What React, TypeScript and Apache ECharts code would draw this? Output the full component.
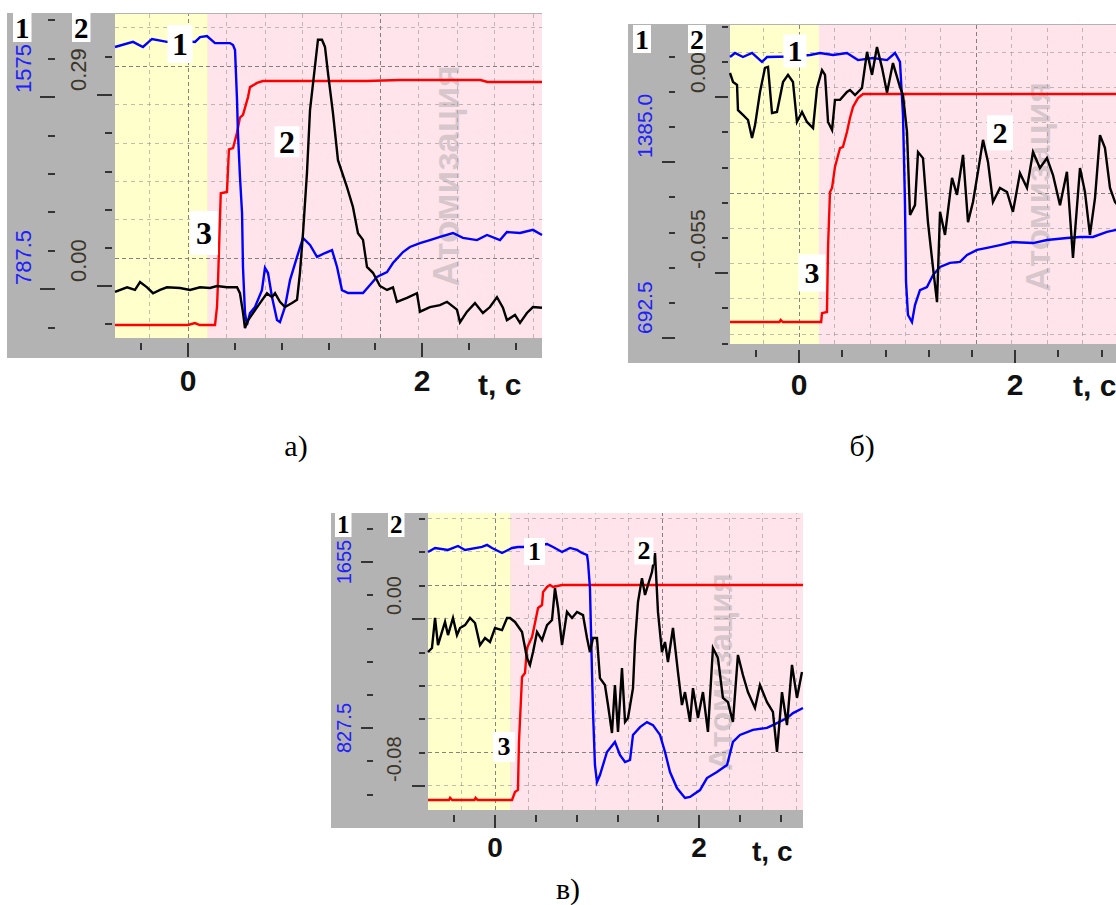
import React, { useEffect, useRef } from "react";
import * as echarts from "echarts";

const SANS = '"Liberation Sans", Arial, Helvetica, sans-serif';
const SERIF = '"Liberation Serif", "Times New Roman", Times, serif';

// ---------- shared time axis (seconds) ----------
const timeMinorTicks = [-0.4, 0.4, 0.8, 1.2, 1.6, 2.4, 2.8];
const timeMajorTicks = [0, 2];
const timeGridLight = [-0.328, 0.328, 0.656, 0.984, 1.312, 1.968, 2.296, 2.624, 2.952];
const timeGridDark = [0, 1.64];

// ---------- panel а ----------
const aBlue = [
  [-0.624, 1780], [-0.47, 1801], [-0.385, 1780], [-0.308, 1813], [-0.18, 1801], [-0.05, 1805], [0.06, 1801],
  [0.103, 1821], [0.162, 1825], [0.231, 1796], [0.359, 1796], [0.385, 1788], [0.402, 1768], [0.419, 1563],
  [0.427, 1427], [0.444, 1250], [0.462, 1099], [0.47, 878], [0.487, 690], [0.504, 640], [0.53, 689],
  [0.573, 714], [0.632, 783], [0.658, 874], [0.684, 853], [0.718, 755], [0.761, 660], [0.786, 652],
  [0.829, 714], [0.872, 824], [0.932, 919], [0.983, 997], [1.043, 968], [1.103, 919], [1.171, 935],
  [1.231, 947], [1.274, 878], [1.316, 783], [1.368, 771], [1.496, 771], [1.556, 804], [1.615, 837],
  [1.701, 857], [1.752, 894], [1.838, 939], [1.897, 960], [1.983, 976], [2.068, 988], [2.154, 1001],
  [2.265, 1017], [2.35, 997], [2.47, 988], [2.556, 1009], [2.667, 988], [2.726, 1021], [2.838, 1017],
  [2.949, 1030], [3.026, 1009],
];
const aBlack = [
  [-0.624, -0.009], [-0.521, -0.002], [-0.453, -0.006], [-0.41, 0.006], [-0.35, -0.002], [-0.299, -0.011],
  [-0.239, -0.006], [-0.18, -0.002], [-0.068, -0.003], [0.017, -0.006], [0.103, -0.002], [0.188, -0.003],
  [0.248, 0], [0.333, -0.002], [0.419, -0.002], [0.444, -0.011], [0.47, -0.04], [0.487, -0.064],
  [0.513, -0.052], [0.556, -0.041], [0.615, -0.026], [0.675, -0.011], [0.718, -0.017], [0.744, -0.011],
  [0.786, -0.024], [0.829, -0.032], [0.889, -0.026], [0.932, -0.021], [0.957, 0.02], [0.983, 0.08],
  [1.017, 0.172], [1.043, 0.267], [1.085, 0.333], [1.111, 0.374], [1.145, 0.374], [1.171, 0.363],
  [1.197, 0.323], [1.239, 0.263], [1.282, 0.191], [1.359, 0.15], [1.41, 0.12], [1.453, 0.08],
  [1.496, 0.07], [1.53, 0.029], [1.581, 0.02], [1.641, 0], [1.701, -0.006], [1.752, -0.002],
  [1.786, -0.024], [1.872, -0.018], [1.957, -0.011], [1.983, -0.039], [2.068, -0.032], [2.154, -0.029],
  [2.214, -0.024], [2.299, -0.036], [2.325, -0.055], [2.385, -0.039], [2.453, -0.026], [2.521, -0.041],
  [2.581, -0.032], [2.641, -0.017], [2.692, -0.033], [2.726, -0.052], [2.795, -0.044], [2.838, -0.056],
  [2.897, -0.041], [2.949, -0.032], [3.026, -0.033],
];
const aRed = [
  [-0.624, 0], [0.0, 0], [0.06, 0.008], [0.1, 0], [0.231, 0], [0.248, 0.074], [0.256, 0.17], [0.28, 0.54],
  [0.333, 0.545], [0.35, 0.72], [0.385, 0.725], [0.42, 0.79], [0.444, 0.85], [0.47, 0.861], [0.513, 0.934],
  [0.53, 0.975], [0.59, 0.992], [0.64, 1.0], [1.53, 1.0], [1.81, 1.004], [2.5, 1.004], [2.56, 0.996],
  [3.026, 0.996],
];
const aBlueMinorTicks = [630, 945, 1102.5, 1260, 1417.5, 1732.5, 1890];
const aBlueMajorTicks = [787.5, 1575];
const aBlueLabels = ["787.5", "1575"];
const aBlackMinorTicks = [-0.058, 0.058, 0.116, 0.174, 0.232, 0.348];
const aBlackMajorTicks = [0, 0.29];
const aBlackLabels = ["0.00", "0.29"];
const aGridLight = [1, 2, 3, 4, 6];
const aGridDark = [0, 5];
const aCurveLabels = [
  { text: "1", series: "blue", t: -0.068, v: 1792, w: 25, h: 38 },
  { text: "2", series: "black", t: 0.846, v: 0.219, w: 25, h: 31 },
  { text: "3", series: "red", t: 0.137, v: 0.377, w: 28, h: 44 },
];

// ---------- panel б ----------
const bBlue = [
  [-0.639, 1798], [-0.593, 1814], [-0.519, 1798], [-0.435, 1814], [-0.343, 1779], [-0.296, 1798],
  [-0.08, 1800], [0.102, 1806], [0.194, 1814], [0.315, 1806], [0.444, 1814], [0.546, 1786], [0.685, 1794],
  [0.815, 1786], [0.889, 1814], [0.935, 1779], [0.963, 1570], [0.981, 1228], [0.991, 913], [1.009, 783],
  [1.046, 755], [1.074, 822], [1.12, 881], [1.185, 893], [1.241, 940], [1.306, 972], [1.398, 988],
  [1.491, 992], [1.556, 1019], [1.648, 1039], [1.741, 1047], [1.861, 1058], [1.981, 1070], [2.167, 1066],
  [2.296, 1078], [2.481, 1086], [2.602, 1090], [2.722, 1090], [2.852, 1110], [2.926, 1117], [3.028, 1117],
];
const bBlack = [
  [-0.639, 0.0075], [-0.611, 0.0047], [-0.574, 0.0038], [-0.565, -0.0041], [-0.519, -0.0056],
  [-0.472, -0.0072], [-0.435, -0.0128], [-0.407, -0.0088], [-0.361, 0.0016], [-0.315, 0.0091],
  [-0.287, 0.0094], [-0.25, -0.005], [-0.204, -0.0047], [-0.148, 0.0047], [-0.102, 0.0069],
  [-0.056, 0.0047], [-0.019, -0.0078], [0.028, -0.0047], [0.074, -0.0078], [0.13, -0.0097],
  [0.167, 0.0028], [0.213, 0.0084], [0.241, 0.0069], [0.269, -0.0078], [0.306, -0.0103],
  [0.333, -0.0009], [0.38, -0.0009], [0.444, 0.0016], [0.472, 0.0022], [0.519, 0.0006], [0.583, 0.0028],
  [0.63, 0.0141], [0.676, 0.0069], [0.722, 0.0156], [0.769, 0.0091], [0.815, 0.0013], [0.87, 0.0106],
  [0.935, 0.0031], [0.963, 0.0006], [1.0, -0.0109], [1.028, -0.0369], [1.074, -0.0338], [1.102, -0.0172],
  [1.148, -0.0191], [1.194, -0.0391], [1.241, -0.0534], [1.278, -0.0641], [1.306, -0.0359],
  [1.352, -0.0431], [1.417, -0.0253], [1.463, -0.0306], [1.519, -0.0181], [1.565, -0.0391],
  [1.611, -0.0328], [1.657, -0.0234], [1.704, -0.0134], [1.75, -0.0203], [1.796, -0.0328],
  [1.861, -0.0284], [1.926, -0.0297], [1.981, -0.0359], [2.046, -0.0238], [2.111, -0.0284],
  [2.167, -0.0172], [2.231, -0.0222], [2.296, -0.0191], [2.352, -0.0244], [2.417, -0.0338],
  [2.481, -0.0234], [2.537, -0.0503], [2.602, -0.0222], [2.648, -0.0297], [2.694, -0.0431],
  [2.741, -0.0316], [2.787, -0.0119], [2.833, -0.0159], [2.88, -0.0284], [2.926, -0.0328], [2.98, -0.035],
];
const bRed = [
  [-0.639, 0], [-0.18, 0], [-0.17, 0.009], [-0.15, 0], [0.205, 0], [0.213, 0.039], [0.259, 0.044],
  [0.269, 0.33], [0.287, 0.57], [0.306, 0.588], [0.333, 0.68], [0.38, 0.763], [0.407, 0.768],
  [0.444, 0.833], [0.472, 0.895], [0.5, 0.943], [0.546, 0.982], [0.593, 1], [3.028, 1],
];
const bBlueMinorTicks = [831, 969.5, 1108, 1246.5, 1523.5, 1662, 1800.5];
const bBlueMajorTicks = [692.5, 1385];
const bBlueLabels = ["692.5", "1385.0"];
const bBlackMinorTicks = [-0.077, -0.066, -0.044, -0.033, -0.022, -0.011, 0.011, 0.022];
const bBlackMajorTicks = [-0.055, 0];
const bBlackLabels = ["-0.055", "0.00"];
const bGridLight = [-4, -3, -2, -1, 1, 2, 3, 4];
const bGridDark = [0];
const bCurveLabels = [
  { text: "1", series: "blue", t: -0.037, v: 1822, w: 23, h: 33 },
  { text: "2", series: "black", t: 1.861, v: -0.0112, w: 26, h: 35 },
  { text: "3", series: "red", t: 0.12, v: 0.215, w: 27, h: 37 },
];

// ---------- panel в ----------
const cBlue = [
  [-0.657, 1705], [-0.588, 1725], [-0.461, 1715], [-0.363, 1735], [-0.294, 1715], [-0.127, 1730],
  [-0.078, 1740], [-0.029, 1725], [0.069, 1700], [0.167, 1725], [0.225, 1730], [0.275, 1730], [0.51, 1745],
  [0.569, 1730], [0.657, 1705], [0.735, 1725], [0.804, 1715], [0.853, 1700], [0.902, 1690], [0.912, 1655],
  [0.931, 1525], [0.951, 1107], [0.961, 907], [0.98, 643], [1.0, 558], [1.029, 593], [1.098, 708],
  [1.176, 758], [1.225, 693], [1.275, 658], [1.324, 668], [1.353, 793], [1.422, 832], [1.49, 857],
  [1.549, 842], [1.618, 793], [1.667, 708], [1.716, 608], [1.784, 528], [1.863, 479], [1.912, 484],
  [2.01, 518], [2.078, 578], [2.176, 608], [2.275, 643], [2.333, 758], [2.402, 793], [2.529, 818],
  [2.667, 828], [2.765, 852], [2.863, 877], [2.922, 902], [3.02, 927],
];
const cBlack = [
  [-0.657, -0.0158], [-0.618, -0.0139], [-0.588, 0.0005], [-0.559, -0.0125], [-0.52, -0.0062],
  [-0.49, -0.0014], [-0.461, -0.0077], [-0.412, 0.0005], [-0.373, -0.0077], [-0.343, -0.0043],
  [-0.294, -0.0029], [-0.245, 0.0005], [-0.196, -0.0019], [-0.147, -0.0125], [-0.098, -0.0091],
  [-0.049, -0.011], [0, -0.0043], [0.069, -0.0053], [0.118, 0.0005], [0.147, 0.0005], [0.196, -0.0014],
  [0.265, -0.0062], [0.314, -0.0187], [0.343, -0.022], [0.373, -0.0158], [0.412, -0.0062],
  [0.461, -0.0101], [0.51, -0.0029], [0.559, -0.0005], [0.588, 0.0148], [0.618, 0.0053], [0.657, -0.0125],
  [0.706, 0.0034], [0.755, 0.0005], [0.804, 0.0034], [0.863, 0.0019], [0.902, -0.0091], [0.931, -0.0158],
  [0.961, -0.0091], [1.0, -0.0091], [1.029, -0.0283], [1.078, -0.0316], [1.108, -0.0412], [1.147, -0.0546],
  [1.176, -0.0316], [1.206, -0.0541], [1.245, -0.0235], [1.275, -0.0493], [1.304, -0.0474],
  [1.353, -0.0331], [1.373, -0.011], [1.402, 0.0081], [1.441, 0.0196], [1.471, 0.0115], [1.5, 0.0163],
  [1.539, 0.0225], [1.569, 0.0316], [1.598, 0.0034], [1.637, -0.0158], [1.667, -0.011], [1.696, -0.0206],
  [1.745, -0.0043], [1.794, -0.0254], [1.833, -0.0412], [1.863, -0.035], [1.912, -0.0493],
  [1.941, -0.0331], [1.99, -0.0474], [2.039, -0.035], [2.088, -0.0541], [2.137, -0.0139],
  [2.186, -0.0187], [2.235, -0.0378], [2.284, -0.0398], [2.333, -0.0493], [2.382, -0.0172],
  [2.431, -0.0268], [2.48, -0.035], [2.549, -0.0426], [2.598, -0.0316], [2.667, -0.0398],
  [2.725, -0.0445], [2.765, -0.0637], [2.814, -0.035], [2.863, -0.0508], [2.912, -0.022],
  [2.961, -0.0378], [3.01, -0.0254],
];
const cRed = [
  [-0.657, 0], [-0.45, 0], [-0.44, 0.01], [-0.42, 0], [-0.2, 0], [-0.19, 0.01], [-0.17, 0], [0.167, 0],
  [0.196, 0.037], [0.225, 0.047], [0.235, 0.27], [0.265, 0.572], [0.294, 0.591], [0.314, 0.707],
  [0.363, 0.758], [0.392, 0.823], [0.422, 0.893], [0.461, 0.907], [0.471, 0.967], [0.51, 0.991],
  [0.539, 1.0], [0.569, 0.991], [0.657, 1.0], [3.02, 1.0],
];
const cBlueMinorTicks = [496.5, 662, 993, 1158.5, 1324, 1489.5, 1820.5];
const cBlueMajorTicks = [827.5, 1655];
const cBlueLabels = ["827.5", "1655"];
const cBlackMinorTicks = [-0.064, -0.048, -0.032, -0.016, 0.016, 0.032, 0.048];
const cBlackMajorTicks = [-0.08, 0];
const cBlackLabels = ["-0.08", "0.00"];
const cGridLight = [-1, 1, 2, 3, 4, 6, 7];
const cGridDark = [0, 5];
const cCurveLabels = [
  { text: "1", series: "blue", t: 0.387, v: 1707, w: 21, h: 27 },
  { text: "2", series: "black", t: 1.46, v: 0.0326, w: 19, h: 27 },
  { text: "3", series: "red", t: 0.088, v: 0.247, w: 22, h: 30 },
];

const WATERMARK = "Атомизация";

// ---------- layout / style config ----------
const panels = [
  {
    grid: { left: 115, top: 14, width: 427, height: 324 },
    tMin: -0.624, tMax: 3.026, yellowEnd: 0.17,
    blueRange: [586.5, 1915.4], blackRange: [-0.079, 0.413], redRange: [-0.0533, 1.2746], gridRange: [-2.083, 6.354],
    blueT: { minor: aBlueMinorTicks, major: aBlueMajorTicks, texts: aBlueLabels },
    blackT: { minor: aBlackMinorTicks, major: aBlackMajorTicks, texts: aBlackLabels },
    hLight: aGridLight, hDark: aGridDark,
    blueAx: { offset: 60, margin: 32, align: "left", fontSize: 22, majorLen: 15, minorLen: 7 },
    blackAx: { offset: 3, margin: 34, align: "left", fontSize: 22, majorLen: 15, minorLen: 7 },
    xAx: { offset: 5, margin: 22, fontSize: 30, majorLen: 14, minorLen: 7 },
    blue: aBlue, black: aBlack, red: aRed, labels: aCurveLabels, labelFont: 32,
    frame: [7, 13, 535, 345],
    headers: [{ text: "1", x: 13, y: 13 }, { text: "2", x: 72, y: 13 }], headerFont: 29,
    wm: { x: 446, y: 176, size: 37 },
    tc: { x: 478, y: 384, size: 30 },
    caption: { text: "а)", x: 296, y: 445 },
  },
  {
    grid: { left: 730, top: 25, width: 396, height: 319 },
    tMin: -0.639, tMax: 3.028, yellowEnd: 0.185,
    blueRange: [668.8, 1924.1], blackRange: [-0.0772, 0.0225], redRange: [-0.0965, 1.3026], gridRange: [-4.29, 4.773],
    blueT: { minor: bBlueMinorTicks, major: bBlueMajorTicks, texts: bBlueLabels },
    blackT: { minor: bBlackMinorTicks, major: bBlackMajorTicks, texts: bBlackLabels },
    hLight: bGridLight, hDark: bGridDark,
    blueAx: { offset: 55, margin: 31, align: "left", fontSize: 21, majorLen: 13, minorLen: 6 },
    blackAx: { offset: 2, margin: 31, align: "left", fontSize: 21, majorLen: 13, minorLen: 6 },
    xAx: { offset: 6, margin: 19, fontSize: 30, majorLen: 13, minorLen: 7 },
    blue: bBlue, black: bBlack, red: bRed, labels: bCurveLabels, labelFont: 30,
    frame: [628, 24, 500, 339],
    headers: [{ text: "1", x: 633, y: 25 }, { text: "2", x: 688, y: 25 }], headerFont: 28,
    wm: { x: 1037, y: 187, size: 35 },
    tc: { x: 1073, y: 385, size: 30 },
    caption: { text: "б)", x: 862, y: 445 },
  },
  {
    grid: { left: 428, top: 513, width: 375, height: 297 },
    tMin: -0.657, tMax: 3.02, yellowEnd: 0.155,
    blueRange: [418.7, 1899.3], blackRange: [-0.0915, 0.0508], redRange: [-0.0465, 1.335], gridRange: [-1.737, 7.156],
    blueT: { minor: cBlueMinorTicks, major: cBlueMajorTicks, texts: cBlueLabels },
    blackT: { minor: cBlackMinorTicks, major: cBlackMajorTicks, texts: cBlackLabels },
    hLight: cGridLight, hDark: cGridDark,
    blueAx: { offset: 55, margin: 29, align: "center", fontSize: 20, majorLen: 12, minorLen: 6 },
    blackAx: { offset: 3, margin: 31, align: "left", fontSize: 20, majorLen: 13, minorLen: 6 },
    xAx: { offset: 5, margin: 18, fontSize: 28, majorLen: 13, minorLen: 7 },
    blue: cBlue, black: cBlack, red: cRed, labels: cCurveLabels, labelFont: 26,
    frame: [331, 513, 472, 315],
    headers: [{ text: "1", x: 335, y: 512 }, { text: "2", x: 388, y: 512 }], headerFont: 25,
    wm: { x: 720, y: 672, size: 33 },
    tc: { x: 752, y: 851, size: 28 },
    caption: { text: "в)", x: 568, y: 888 },
  },
];

const COLORS = {
  frame: "#b3b3b3",
  yellow: "#ffffcc",
  pink: "#ffe4ec",
  blue: "#0000ff",
  red: "#ff0000",
  black: "#000000",
  blueText: "#2020ff",
  blackText: "#3a3528",
  tick: "#151515",
  gridLight: "rgba(140,140,140,0.55)",
  gridDark: "rgba(110,110,110,0.85)",
  watermark: "rgba(150,150,150,0.38)",
};

function fmt(major: number[], texts: string[]) {
  return (v: any) => {
    const n = Number(v);
    const i = major.findIndex((m) => Math.abs(m - n) < 1e-9);
    return i >= 0 ? texts[i] : "";
  };
}

function buildOption() {
  const grid: any[] = [];
  const xAxis: any[] = [];
  const yAxis: any[] = [];
  const series: any[] = [];
  const graphic: any[] = [];
  const tickStyle = { color: COLORS.tick, width: 1.6 };

  panels.forEach((p, gi) => {
    grid.push({ ...p.grid, show: false, containLabel: false, outerBoundsMode: "none" });

    const xBase = {
      type: "value", gridIndex: gi, min: p.tMin, max: p.tMax, position: "bottom", offset: p.xAx.offset,
      axisLine: { show: false, onZero: false }, splitLine: { show: false }, splitArea: { show: false },
    };
    const xi = xAxis.length;
    xAxis.push({ ...xBase, axisTick: { show: true, customValues: timeMinorTicks, length: p.xAx.minorLen, lineStyle: tickStyle }, axisLabel: { show: false } });
    xAxis.push({
      ...xBase,
      axisTick: { show: true, customValues: timeMajorTicks, length: p.xAx.majorLen, lineStyle: tickStyle },
      axisLabel: {
        show: true, customValues: timeMajorTicks, formatter: (v: any) => String(Number(v)), margin: p.xAx.margin,
        fontSize: p.xAx.fontSize, fontWeight: "bold", color: "#111", fontFamily: SANS,
      },
    });

    const yPair = (range: number[], t: any, ax: any, color: string) => {
      const base = {
        type: "value", gridIndex: gi, min: range[0], max: range[1], position: "left", offset: ax.offset,
        axisLine: { show: false, onZero: false }, splitLine: { show: false }, splitArea: { show: false },
      };
      yAxis.push({ ...base, axisTick: { show: true, customValues: t.minor, length: ax.minorLen, lineStyle: tickStyle }, axisLabel: { show: false } });
      yAxis.push({
        ...base,
        axisTick: { show: true, customValues: t.major, length: ax.majorLen, lineStyle: tickStyle },
        axisLabel: {
          show: true, customValues: t.major, formatter: fmt(t.major, t.texts), rotate: 90,
          align: ax.align, verticalAlign: "middle", margin: ax.margin, color, fontSize: ax.fontSize,
          fontFamily: SANS, padding: ax.align === "left" ? [0, 0, 0, 4] : 0,
        },
      });
      return yAxis.length - 1;
    };
    const yBlue = yPair(p.blueRange, p.blueT, p.blueAx, COLORS.blueText);
    const yBlack = yPair(p.blackRange, p.blackT, p.blackAx, COLORS.blackText);
    const hidden = (range: number[]) => {
      yAxis.push({
        type: "value", gridIndex: gi, min: range[0], max: range[1], position: "left", show: false,
        axisLine: { show: false, onZero: false }, splitLine: { show: false },
      });
      return yAxis.length - 1;
    };
    const yRed = hidden(p.redRange);
    const yGrid = hidden(p.gridRange);

    const light = { color: COLORS.gridLight, type: [4, 4], width: 1 };
    const dark = { color: COLORS.gridDark, type: [4, 3], width: 1 };
    const vLight = timeGridLight.filter((v) => v > p.tMin && v < p.tMax);

    // background zones + grid lines
    series.push({
      type: "line", xAxisIndex: xi, yAxisIndex: yGrid, data: [[p.tMin, 0]], symbol: "none", silent: true,
      lineStyle: { opacity: 0 }, z: 0,
      markArea: {
        silent: true, z: 0,
        data: [
          [{ xAxis: p.tMin, itemStyle: { color: COLORS.yellow } }, { xAxis: p.yellowEnd }],
          [{ xAxis: p.yellowEnd, itemStyle: { color: COLORS.pink } }, { xAxis: p.tMax }],
        ],
      },
      markLine: {
        silent: true, z: 1, symbol: ["none", "none"], label: { show: false },
        data: [
          ...vLight.map((v) => ({ xAxis: v, lineStyle: light })),
          ...timeGridDark.map((v) => ({ xAxis: v, lineStyle: dark })),
          ...p.hLight.map((v) => ({ yAxis: v, lineStyle: light })),
          ...p.hDark.map((v) => ({ yAxis: v, lineStyle: dark })),
        ],
      },
    });

    const mk = (name: string) => ({
      silent: true, z: 6,
      data: p.labels.filter((l) => l.series === name).map((l) => ({
        coord: [l.t, l.v], symbol: "rect", symbolSize: [l.w, l.h], itemStyle: { color: "#ffffff" },
        label: {
          show: true, position: "inside", formatter: l.text, color: "#000", fontFamily: SERIF,
          fontWeight: "bold", fontSize: p.labelFont,
        },
      })),
    });
    const lineSeries = (data: number[][], yi: number, color: string, z: number, name: string) => ({
      type: "line", xAxisIndex: xi, yAxisIndex: yi, data, symbol: "none", showSymbol: false, silent: true,
      lineStyle: { color, width: 2.4, join: "miter" }, z, clip: true, markPoint: mk(name),
    });
    series.push(lineSeries(p.red, yRed, COLORS.red, 3, "red"));
    series.push(lineSeries(p.blue, yBlue, COLORS.blue, 4, "blue"));
    series.push(lineSeries(p.black, yBlack, COLORS.black, 5, "black"));

    const [fx, fy, fw, fh] = p.frame;
    graphic.push({ type: "rect", z: -1, silent: true, shape: { x: fx, y: fy, width: fw, height: fh }, style: { fill: COLORS.frame } });
    graphic.push({
      type: "text", z: 2, silent: true, x: p.wm.x, y: p.wm.y, rotation: Math.PI / 2,
      style: { text: WATERMARK, fill: COLORS.watermark, font: `bold ${p.wm.size}px ${SANS}`, align: "center", verticalAlign: "middle" },
    });
    p.headers.forEach((h) => {
      graphic.push({
        type: "text", z: 10, silent: true, x: h.x, y: h.y,
        style: {
          text: h.text, fill: "#000", font: `bold ${p.headerFont}px ${SERIF}`, align: "left", verticalAlign: "top",
          backgroundColor: "#ffffff", padding: [0, 2, 0, 2],
        },
      });
    });
    graphic.push({
      type: "text", z: 10, silent: true, x: p.tc.x, y: p.tc.y,
      style: { text: "t, c", fill: "#111", font: `bold ${p.tc.size}px ${SANS}`, align: "left", verticalAlign: "middle" },
    });
    graphic.push({
      type: "text", z: 10, silent: true, x: p.caption.x, y: p.caption.y,
      style: { text: p.caption.text, fill: "#000", font: `30px ${SERIF}`, align: "center", verticalAlign: "middle" },
    });
  });

  return { animation: false, backgroundColor: "#ffffff", grid, xAxis, yAxis, series, graphic };
}

export default function App() {
  const ref = useRef<HTMLDivElement>(null);
  useEffect(() => {
    if (!ref.current) return;
    const chart = echarts.init(ref.current, null, { renderer: "svg" });
    chart.setOption(buildOption() as any);
    return () => chart.dispose();
  }, []);
  return (
    <div
      ref={ref}
      style={{ position: "fixed", left: 0, top: 0, width: 1116, height: 905, background: "#fff" }}
    />
  );
}
